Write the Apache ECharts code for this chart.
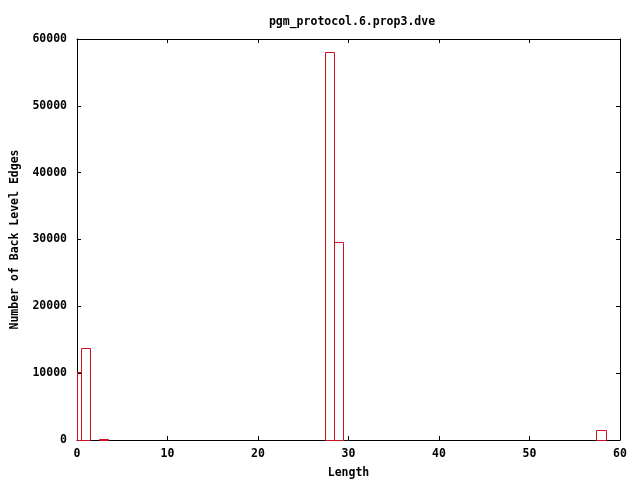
<!DOCTYPE html>
<html>
<head>
<meta charset="utf-8">
<script src="https://cdn.jsdelivr.net/npm/echarts@6/dist/echarts.min.js"></script>
<style>html,body{margin:0;padding:0;background:#fff;}#c{width:640px;height:480px;}</style>
</head>
<body>
<div id="c"></div>
<script>
const chartTitle = 'pgm_protocol.6.prop3.dve';
const xName = 'Length';
const yName = 'Number of Back Level Edges';
const lengths = [0, 1, 3, 28, 29, 58];
const counts = [10150, 13800, 150, 58000, 29600, 1450];

const FONT = '"DejaVu Sans Mono", "Liberation Mono", monospace';
const XMIN = 0, XMAX = 60;
const chart = echarts.init(document.getElementById('c'), null, {renderer: 'canvas'});
const axisCommon = {
  axisLine: {show: true, onZero: false, lineStyle: {color: '#000', width: 1}},
  axisTick: {show: true, inside: true, length: 4, lineStyle: {color: '#000'}},
  splitLine: {show: false}
};
const plain = v => String(v);
chart.setOption({
  animation: false,
  backgroundColor: '#fff',
  title: {
    text: chartTitle, left: 347, top: 11, textAlign: 'center',
    textStyle: {fontFamily: FONT, fontWeight: 'bold', fontSize: 11.5, color: '#000'}
  },
  grid: {left: 77, right: 20, top: 39, bottom: 40, containLabel: false, outerBoundsMode: 'none'},
  xAxis: [
    Object.assign({
      type: 'value', min: XMIN, max: XMAX, interval: 10, position: 'bottom',
      name: xName, nameLocation: 'middle', nameGap: 27,
      nameTextStyle: {fontFamily: FONT, fontWeight: 'bold', fontSize: 11.5, color: '#000'},
      axisLabel: {fontFamily: FONT, fontWeight: 'bold', fontSize: 11.5, color: '#000', margin: 8, formatter: plain}
    }, axisCommon),
    Object.assign({
      type: 'value', min: XMIN, max: XMAX, interval: 10, position: 'top',
      axisLabel: {show: false}
    }, axisCommon)
  ],
  yAxis: [
    Object.assign({
      type: 'value', min: 0, max: 60000, interval: 10000, position: 'left',
      name: yName, nameLocation: 'middle', nameGap: 55,
      nameTextStyle: {fontFamily: FONT, fontWeight: 'bold', fontSize: 11.5, color: '#000'},
      axisLabel: {fontFamily: FONT, fontWeight: 'bold', fontSize: 11.5, color: '#000', margin: 10, formatter: plain}
    }, axisCommon),
    Object.assign({
      type: 'value', min: 0, max: 60000, interval: 10000, position: 'right',
      axisLabel: {show: false}
    }, axisCommon)
  ],
  series: [{
    type: 'custom',
    xAxisIndex: 0, yAxisIndex: 0,
    clip: false,
    data: lengths.map((l, i) => [l, counts[i]]),
    renderItem: function (params, api) {
      const x = api.value(0), v = api.value(1);
      const p1 = api.coord([Math.max(x - 0.6, XMIN), v]);
      const p2 = api.coord([Math.min(x + 0.4, XMAX), 0]);
      return {
        type: 'rect',
        shape: {x: Math.round(p1[0]) + 0.5, y: Math.round(p1[1]) + 0.5,
                width: Math.round(p2[0]) - Math.round(p1[0]), height: Math.round(p2[1]) - Math.round(p1[1])},
        style: {fill: 'none', stroke: '#cc1122', lineWidth: 1}
      };
    }
  }]
});
</script>
</body>
</html>
